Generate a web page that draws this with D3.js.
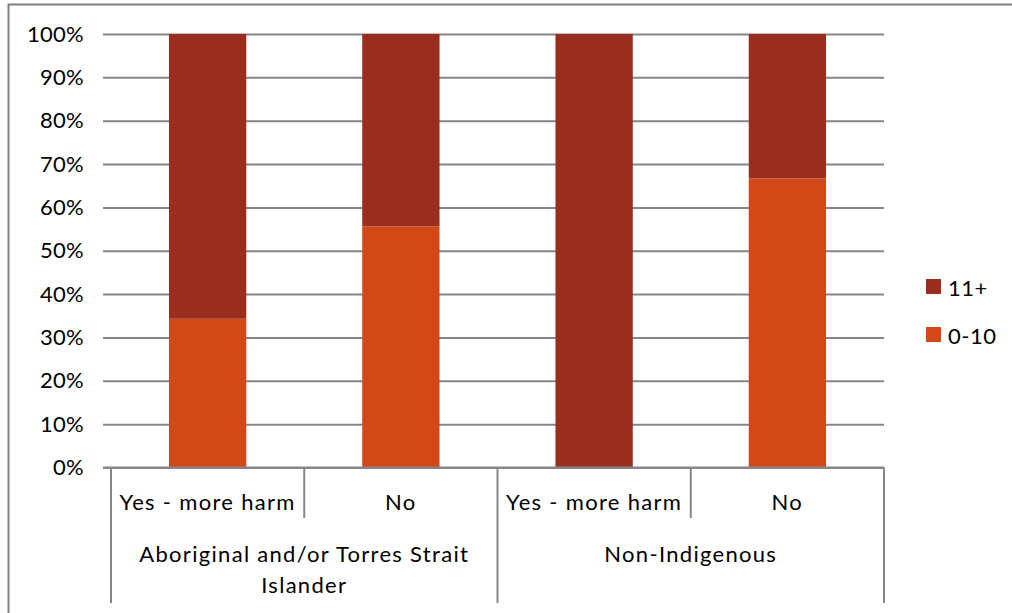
<!DOCTYPE html>
<html>
<head>
<meta charset="utf-8">
<script src="https://cdn.jsdelivr.net/npm/d3@7"></script>
<style>
  html, body { margin: 0; padding: 0; background: #fff; }
  svg { display: block; }
  text { font-family: Lato, "Open Sans", sans-serif; fill: #000; font-size: 22px; }
</style>
</head>
<body>
<svg id="chart" width="1012" height="613"></svg>
<script>
// Sub-categories (bottom row) and the groups they belong to
const subCategories = ["Yes - more harm", "No", "Yes - more harm", "No"];
const groups = [
  { name: ["Aboriginal and/or Torres Strait", "Islander"], span: [0, 2] },
  { name: ["Non-Indigenous"], span: [2, 4] }
];
// Share of each bar (percent)
const share0to10 = [34.3, 55.6, 0, 66.7];
const share11plus = [65.7, 44.4, 100, 33.3];
const seriesNames = ["0-10", "11+"];
const seriesColors = { "0-10": "#D34817", "11+": "#9B2D1F" };
const yTicks = [0, 10, 20, 30, 40, 50, 60, 70, 80, 90, 100];

const svg = d3.select("#chart");
const plot = { left: 111, right: 884, top: 34, bottom: 467.5 };
const axisColor = "#868686";

// Chart frame
svg.append("rect")
  .attr("x", 8.5).attr("y", 4.5)
  .attr("width", 1100).attr("height", 700)
  .attr("fill", "none").attr("stroke", "#7f7f7f").attr("stroke-width", 2);

const x = d3.scaleBand()
  .domain(d3.range(subCategories.length))
  .range([plot.left, plot.right])
  .paddingInner(0.6).paddingOuter(0.3);
const y = d3.scaleLinear().domain([0, 100]).range([plot.bottom, plot.top]);

// Gridlines with tick stubs
const yAxis = d3.axisLeft(y)
  .tickValues(yTicks)
  .tickFormat(d => d + "%")
  .tickSize(-(plot.right - plot.left))
  .tickPadding(27);
const gy = svg.append("g")
  .attr("transform", `translate(${plot.left},0)`)
  .call(yAxis);
gy.select(".domain").remove();
gy.selectAll(".tick line")
  .attr("x1", -8)
  .attr("stroke", axisColor).attr("stroke-width", 2);
gy.selectAll(".tick text")
  .attr("font-family", null).attr("font-size", null)
  .style("font-size", "22px")
  .style("letter-spacing", "0.3px")
  .attr("fill", "#000");

// Stacked bars
const rows = subCategories.map((c, i) => ({ i, "0-10": share0to10[i], "11+": share11plus[i] }));
const stack = d3.stack().keys(seriesNames)(rows);
svg.append("g").selectAll("g")
  .data(stack).join("g")
  .attr("fill", d => seriesColors[d.key])
  .selectAll("rect")
  .data(d => d).join("rect")
  .attr("x", d => x(d.data.i))
  .attr("width", x.bandwidth())
  .attr("y", d => y(d[1]))
  .attr("height", d => y(d[0]) - y(d[1]));

// Baseline
svg.append("line")
  .attr("x1", plot.left - 8).attr("x2", plot.right)
  .attr("y1", y(0)).attr("y2", y(0))
  .attr("stroke", axisColor).attr("stroke-width", 2);

// Multi-level category axis
const step = (plot.right - plot.left) / subCategories.length;
const edge = i => plot.left + i * step;
const innerBottom = 518, outerBottom = 603;
const boundaries = new Set();
groups.forEach(g => { boundaries.add(g.span[0]); boundaries.add(g.span[1]); });
d3.range(subCategories.length + 1).forEach(i => {
  svg.append("line")
    .attr("x1", edge(i)).attr("x2", edge(i))
    .attr("y1", y(0)).attr("y2", boundaries.has(i) ? outerBottom : innerBottom)
    .attr("stroke", axisColor).attr("stroke-width", 2);
});
svg.append("g").selectAll("text")
  .data(subCategories).join("text")
  .attr("x", (d, i) => edge(i) + step / 2)
  .attr("y", 501)
  .attr("text-anchor", "middle")
  .attr("dominant-baseline", "central")
  .style("letter-spacing", "1.3px")
  .text(d => d);
groups.forEach(g => {
  const cx = (edge(g.span[0]) + edge(g.span[1])) / 2;
  g.name.forEach((line, k) => {
    svg.append("text")
      .attr("x", cx).attr("y", 553 + k * 31)
      .attr("text-anchor", "middle")
      .attr("dominant-baseline", "central")
      .style("letter-spacing", "1.3px")
      .text(line);
  });
});

// Legend
const legendItems = ["11+", "0-10"];
const lg = svg.append("g").selectAll("g")
  .data(legendItems).join("g")
  .attr("transform", (d, i) => `translate(926,${279 + i * 48})`);
lg.append("rect").attr("width", 15).attr("height", 15)
  .attr("fill", d => seriesColors[d]);
lg.append("text").attr("x", 22).attr("y", 8)
  .attr("dominant-baseline", "central")
  .style("letter-spacing", "0.5px")
  .text(d => d);
</script>
</body>
</html>
